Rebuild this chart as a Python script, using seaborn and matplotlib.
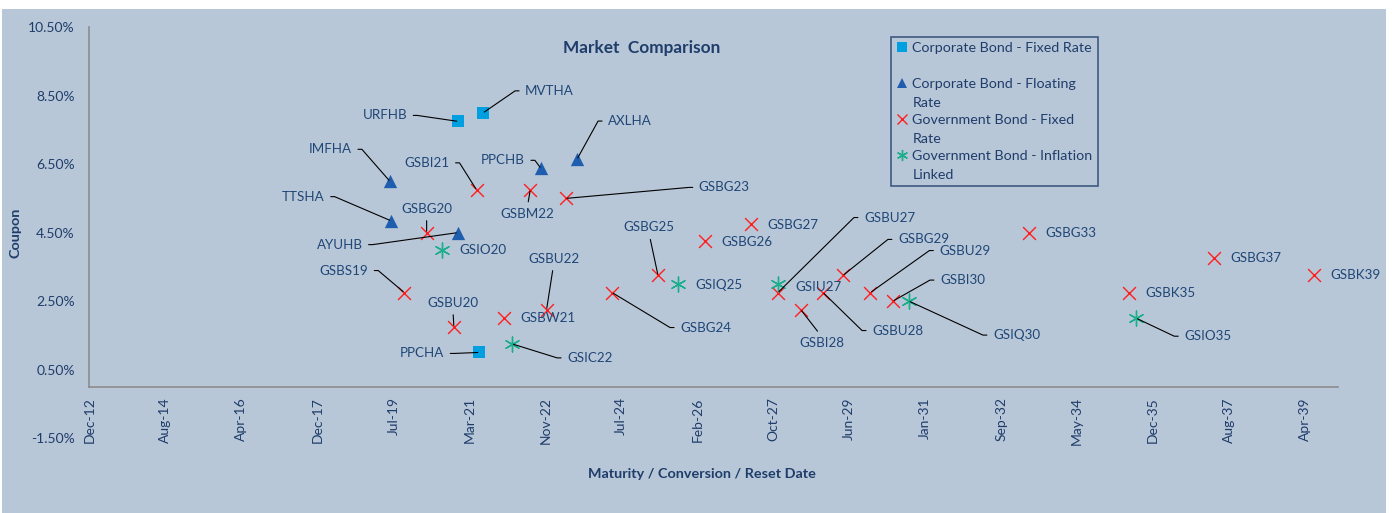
import numpy as np
import pandas as pd
import matplotlib
matplotlib.use("Agg")
import matplotlib.pyplot as plt
import matplotlib.dates as mdates
from matplotlib.lines import Line2D
from matplotlib.patches import Rectangle
from matplotlib.legend_handler import HandlerLine2D
import seaborn as sns

# ---------------- data ----------------
corp_fixed_names = ["URFHB", "MVTHA", "PPCHA"]
corp_fixed_dates = ["2020-12-21", "2021-07-06", "2021-06-05"]
corp_fixed_coupons = [7.75, 8.00, 1.00]

corp_float_names = ["IMFHA", "TTSHA", "AYUHB", "PPCHB", "AXLHA"]
corp_float_dates = ["2019-07-01", "2019-07-07", "2020-12-16", "2022-10-05", "2023-07-18"]
corp_float_coupons = [6.00, 4.85, 4.50, 6.38, 6.65]

govt_fixed_names = ["GSBS19", "GSBG20", "GSBU20", "GSBI21", "GSBW21", "GSBM22", "GSBU22",
                    "GSBG23", "GSBG24", "GSBG25", "GSBG26", "GSBG27", "GSBU27", "GSBI28",
                    "GSBU28", "GSBG29", "GSBU29", "GSBI30", "GSBG33", "GSBK35", "GSBG37",
                    "GSBK39"]
govt_fixed_dates = ["2019-10-22", "2020-04-16", "2020-11-17", "2021-05-15", "2021-12-19",
                    "2022-07-13", "2022-11-19", "2023-04-20", "2024-04-19", "2025-04-17",
                    "2026-04-21", "2027-04-21", "2027-11-20", "2028-05-18", "2028-11-10",
                    "2029-04-16", "2029-11-19", "2030-05-16", "2033-04-21", "2035-06-21",
                    "2037-04-20", "2039-06-20"]
govt_fixed_coupons = [2.75, 4.50, 1.75, 5.75, 2.00, 5.75, 2.25, 5.50, 2.75, 3.25, 4.25,
                      4.75, 2.75, 2.25, 2.75, 3.25, 2.75, 2.50, 4.50, 2.75, 3.75, 3.25]

govt_il_names = ["GSIO20", "GSIC22", "GSIQ25", "GSIU27", "GSIQ30", "GSIO35"]
govt_il_dates = ["2020-08-17", "2022-02-20", "2025-09-22", "2027-11-20", "2030-09-19",
                 "2035-08-19"]
govt_il_coupons = [4.00, 1.25, 3.00, 3.00, 2.50, 2.00]

series_labels = ["Corporate Bond - Fixed Rate\n",
                 "Corporate Bond - Floating\nRate",
                 "Government Bond - Fixed\nRate",
                 "Government Bond - Inflation\nLinked"]

title_text = "Market  Comparison"
x_title = "Maturity / Conversion / Reset Date"
y_title = "Coupon"

# ---------------- layout / style ----------------
BG = "#B8C7D7"
TXT = "#1F3D6B"
LBL = "#1F4677"
AXC = "#8C8C8C"
FONT = ["Lato", "DejaVu Sans"]

# label offsets in pixels (dx, dy up), alignment, leader line
LABEL_POS = {
    "URFHB": (-51, 6, "right", True), "MVTHA": (42, 22, "left", True),
    "PPCHA": (-35, -1, "right", True), "IMFHA": (-38, 32, "right", True),
    "TTSHA": (-66, 24, "right", True), "AYUHB": (-95, -12, "right", True),
    "PPCHB": (-16, 8, "right", True), "AXLHA": (31, 38, "left", True),
    "GSBS19": (-36, 22, "right", True), "GSBG20": (0, 24, "center", True),
    "GSBU20": (-1, 24, "center", True), "GSIO20": (17, 0, "left", False),
    "GSBI21": (-27, 27, "right", True), "GSBW21": (16, 0, "left", False),
    "GSIC22": (55, -14, "left", True), "GSBM22": (-3, -24, "center", True),
    "GSBU22": (7, 51, "center", True), "GSBG23": (133, 11, "left", True),
    "GSBG24": (68, -35, "left", True), "GSBG25": (-9, 48, "center", True),
    "GSIQ25": (17, -1, "left", False), "GSBG26": (17, -1, "left", False),
    "GSBG27": (16, -1, "left", False), "GSIU27": (17, -3, "left", False),
    "GSBU27": (86, 75, "left", True), "GSBI28": (21, -33, "center", True),
    "GSBU28": (49, -38, "left", True), "GSBG29": (55, 36, "left", True),
    "GSBU29": (69, 42, "left", True), "GSBI30": (47, 21, "left", True),
    "GSIQ30": (84, -34, "left", True), "GSBG33": (17, 0, "left", False),
    "GSBK35": (17, 0, "left", False), "GSIO35": (48, -18, "left", True),
    "GSBG37": (17, 0, "left", False), "GSBK39": (17, 0, "left", False),
}

sns.set_theme(style="white")
plt.rcParams["font.family"] = FONT

groups = [
    (corp_fixed_names, corp_fixed_dates, corp_fixed_coupons, "s", "#00A0E0", 82),
    (corp_float_names, corp_float_dates, corp_float_coupons, "^", "#1F5DAE", 92),
    (govt_fixed_names, govt_fixed_dates, govt_fixed_coupons, "x", "#FF1F1F", 85),
    (govt_il_names, govt_il_dates, govt_il_coupons, (6, 2, 0), "#1AAE8C", 115),
]

fig = plt.figure(figsize=(13.92, 5.13), dpi=100, facecolor="white")
fig.patches.append(Rectangle((2 / 1392, 0), 1384 / 1392, 504 / 513, transform=fig.transFigure,
                             facecolor=BG, edgecolor="none", zorder=-10))
ax = fig.add_axes([0.0642, 0.1462, 0.8972, 0.8006])
ax.set_facecolor("none")

for names, dates, coupons, marker, color, size in groups:
    df = pd.DataFrame({"name": names, "date": pd.to_datetime(dates), "coupon": coupons})
    if marker == "s" or marker == "^":
        sns.scatterplot(data=df, x="date", y="coupon", marker=marker, color=color, s=size,
                        edgecolor=color, linewidth=0, ax=ax, legend=False, zorder=3)
    else:
        sns.scatterplot(data=df, x="date", y="coupon", marker=marker, color=color, s=size,
                        linewidth=1.0, ax=ax, legend=False, zorder=3)
    for n, d, c in zip(df["name"], df["date"], df["coupon"]):
        dx, dy, ha, lead = LABEL_POS[n]
        kw = dict(xy=(mdates.date2num(d), c), xytext=(dx, dy), textcoords="offset pixels",
                  ha=ha, va="center", fontsize=9.6, color=LBL, zorder=4)
        if lead:
            if ha == "right":
                cs = "arc,angleA=0,armA=10,angleB=0,armB=0,rad=0"
                rel = (1, 0.5)
            elif ha == "left":
                cs = "arc,angleA=180,armA=10,angleB=0,armB=0,rad=0"
                rel = (0, 0.5)
            else:
                cs = "arc3,rad=0"
                rel = (0.5, 0 if dy > 0 else 1)
            kw["arrowprops"] = dict(arrowstyle="-", color="black", lw=0.8, relpos=rel,
                                    shrinkA=2, shrinkB=1, connectionstyle=cs)
        ax.annotate(n, **kw)

# axes
start = mdates.date2num(pd.Timestamp("2012-12-31"))
ax.set_xlim(start, start + 9861)
ax.set_xticks(start + np.arange(17) * 600)
ax.xaxis.set_major_formatter(mdates.DateFormatter("%b-%y"))
ax.set_ylim(-1.5, 10.5)
yt = np.arange(-1.5, 10.51, 2.0)
ax.set_yticks(yt)
ax.set_yticklabels([f"{v:.2f}%" for v in yt])

for s in ["top", "right"]:
    ax.spines[s].set_visible(False)
ax.spines["bottom"].set_position(("data", 0))
ax.spines["left"].set_bounds(0, 10.5)
for s in ["bottom", "left"]:
    ax.spines[s].set_color(AXC)
    ax.spines[s].set_linewidth(1.2)

ax.tick_params(axis="both", which="major", direction="out", length=3.6, width=1.0,
               color=AXC, labelcolor=TXT, labelsize=10)
ax.tick_params(axis="y", pad=7)
ax.tick_params(axis="x", pad=4, labelrotation=90)
ax.yaxis.get_major_ticks()[0].tick1line.set_visible(False)
ax.grid(False)

ax.set_xlabel(x_title, fontsize=10.4, fontweight="bold", color=TXT)
ax.xaxis.set_label_coords(0.4903, -0.0877)
ax.xaxis.label.set_va("center")
ax.set_ylabel(y_title, fontsize=10.4, fontweight="bold", color=TXT)
ax.yaxis.set_label_coords(-0.0595, 0.5)
ax.yaxis.label.set_va("center")

ax.text(0.4424, 0.9489, title_text, transform=ax.transAxes, ha="center", va="center",
        fontsize=12.4, fontweight="bold", color=TXT)


class FirstLineHandler(HandlerLine2D):
    def create_artists(self, legend, orig_handle, xdescent, ydescent, width, height,
                       fontsize, trans):
        arts = super().create_artists(legend, orig_handle, xdescent, ydescent, width,
                                      height, fontsize, trans)
        for a in arts:
            a.set_ydata(np.asarray(a.get_ydata(), dtype=float) + 0.72 * fontsize)
        return arts


handles = []
for (names, dates, coupons, marker, color, size), lab in zip(groups, series_labels):
    unfilled = marker in ("x", (6, 2, 0))
    h = Line2D([], [], linestyle="none", marker=marker,
               markersize=8 if marker == (6, 2, 0) else 7, color=color,
               markeredgecolor=color, markeredgewidth=1.0 if unfilled else 0)
    handles.append(h)
leg = ax.legend(handles, series_labels, loc="upper left", bbox_to_anchor=(0.6419, 0.9757),
                borderaxespad=0, frameon=True, fancybox=False, fontsize=10.3,
                handlelength=0.8, handletextpad=0.35, borderpad=0.35, labelspacing=0.36,
                handler_map={h: FirstLineHandler() for h in handles})
leg.get_frame().set_facecolor(BG)
leg.get_frame().set_edgecolor(TXT)
leg.get_frame().set_linewidth(1.2)
for t in leg.get_texts():
    t.set_color(TXT)
    t.set_linespacing(1.67)

fig.savefig("out.png", dpi=100, facecolor="white")
